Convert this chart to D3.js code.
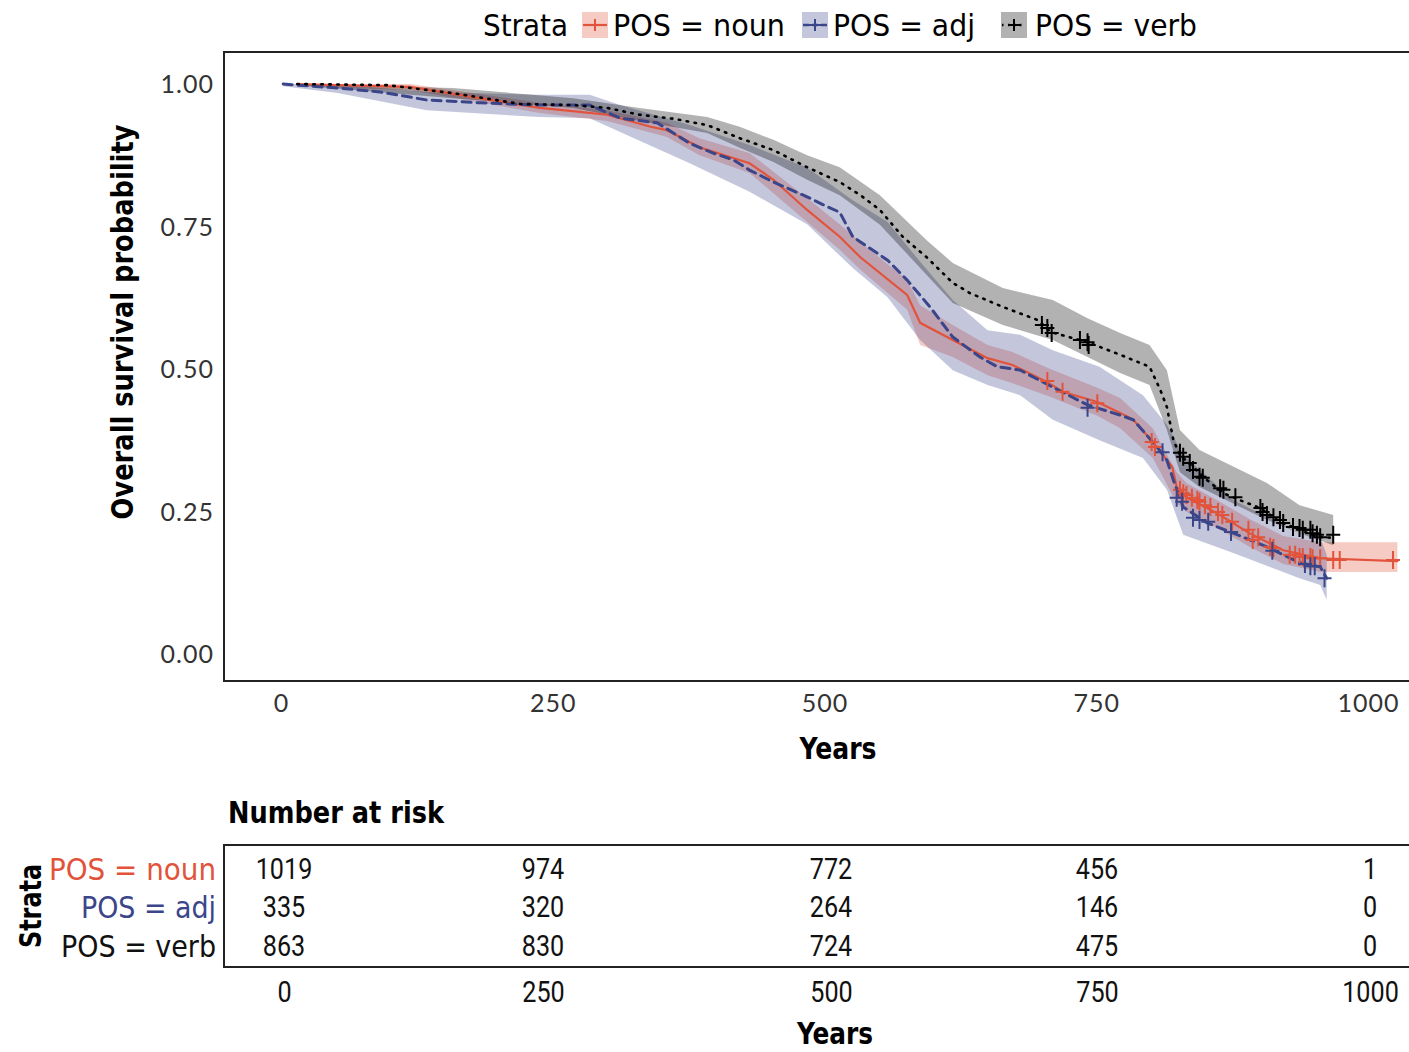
<!DOCTYPE html>
<html>
<head>
<meta charset="utf-8">
<script src="https://cdn.jsdelivr.net/npm/d3@7"></script>
<style>
  html, body { margin: 0; padding: 0; background: #ffffff; }
  svg { display: block; }
</style>
</head>
<body>
<svg id="chart" width="1409" height="1052"></svg>
<script>
// ---------------- DATA ----------------
const strata = ["POS = noun", "POS = adj", "POS = verb"];
const xTicks = [0, 250, 500, 750, 1000];
const yTicks = [0, 0.25, 0.5, 0.75, 1.0];
const yTickLabels = ["0.00", "0.25", "0.50", "0.75", "1.00"];

// survival curves [year, probability]
const nounCurve = [[15,1.0],[119,0.995],[238,0.958],[266,0.953],[300,0.946],[340,0.925],[355,0.919],[385,0.889],[431,0.861],[453,0.832],[484,0.779],[514,0.732],[533,0.696],[576,0.630],[588,0.581],[618,0.551],[650,0.519],[673,0.507],[705,0.477],[719,0.460],[751,0.442],[772,0.423],[784,0.411],[802,0.372],[820,0.328],[824,0.293],[833,0.275],[861,0.247],[891,0.212],[922,0.182],[956,0.168],[1027,0.163]];
const adjCurve = [[2,1.0],[15,0.998],[52,0.993],[91,0.986],[134,0.972],[183,0.967],[238,0.963],[284,0.963],[312,0.940],[346,0.932],[361,0.914],[376,0.896],[397,0.879],[416,0.867],[431,0.849],[453,0.828],[484,0.802],[499,0.788],[514,0.775],[526,0.732],[558,0.691],[576,0.656],[597,0.609],[618,0.556],[643,0.521],[659,0.504],[680,0.498],[710,0.468],[742,0.437],[772,0.419],[784,0.411],[806,0.363],[815,0.340],[821,0.305],[830,0.258],[852,0.230],[876,0.212],[907,0.188],[937,0.160],[956,0.153],[962,0.133]];
const verbCurve = [[15,1.0],[98,0.998],[158,0.984],[220,0.965],[269,0.963],[300,0.958],[330,0.946],[361,0.939],[392,0.928],[422,0.905],[453,0.884],[484,0.854],[514,0.828],[533,0.805],[551,0.779],[572,0.732],[594,0.696],[618,0.651],[634,0.633],[664,0.609],[696,0.586],[708,0.565],[742,0.547],[772,0.525],[799,0.504],[809,0.463],[815,0.433],[821,0.375],[827,0.349],[839,0.328],[852,0.305],[867,0.282],[882,0.270],[901,0.256],[919,0.232],[937,0.218],[953,0.205],[968,0.204]];

// confidence ribbons [year, lower, upper]
const nounBand = [[15,0.996,1.0],[119,0.989,1.0],[238,0.949,0.967],[300,0.935,0.954],[355,0.907,0.932],[385,0.875,0.905],[431,0.844,0.879],[484,0.758,0.800],[514,0.709,0.754],[533,0.674,0.723],[576,0.604,0.656],[588,0.542,0.612],[618,0.521,0.577],[650,0.489,0.542],[673,0.475,0.530],[705,0.453,0.502],[751,0.418,0.467],[772,0.396,0.449],[802,0.344,0.396],[824,0.265,0.319],[833,0.249,0.300],[861,0.221,0.270],[891,0.188,0.237],[922,0.158,0.207],[956,0.144,0.196],[1027,0.144,0.196]];
const adjBand = [[2,0.996,1.0],[52,0.984,1.0],[134,0.954,0.986],[238,0.942,0.981],[284,0.940,0.981],[312,0.916,0.963],[376,0.861,0.928],[431,0.811,0.893],[484,0.754,0.853],[526,0.677,0.796],[558,0.626,0.758],[588,0.551,0.688],[618,0.498,0.621],[650,0.472,0.568],[680,0.454,0.560],[710,0.411,0.533],[753,0.375,0.504],[793,0.344,0.454],[815,0.288,0.402],[830,0.209,0.349],[876,0.177,0.270],[937,0.133,0.212],[956,0.121,0.205],[962,0.095,0.174]];
const verbBand = [[15,0.998,1.0],[158,0.975,0.993],[269,0.958,0.975],[330,0.935,0.958],[392,0.914,0.942],[422,0.888,0.925],[453,0.863,0.902],[484,0.832,0.875],[514,0.805,0.854],[551,0.753,0.805],[594,0.665,0.726],[618,0.616,0.686],[664,0.577,0.642],[710,0.551,0.621],[742,0.521,0.589],[772,0.493,0.563],[799,0.472,0.542],[815,0.393,0.498],[827,0.319,0.393],[845,0.293,0.358],[907,0.235,0.300],[937,0.212,0.261],[968,0.191,0.244]];

// censor marks [year, probability]
const nounCensor = [[705,0.479],[719,0.460],[751,0.440],[801,0.372],[804,0.363],[827,0.288],[830,0.282],[833,0.279],[838,0.274],[843,0.270],[845,0.267],[850,0.261],[855,0.258],[862,0.249],[866,0.244],[875,0.232],[890,0.218],[894,0.200],[899,0.205],[910,0.188],[913,0.186],[928,0.174],[933,0.174],[937,0.170],[940,0.170],[947,0.170],[949,0.168],[956,0.168],[968,0.165],[974,0.165],[1023,0.165]];
const adjCensor = [[742,0.432],[811,0.354],[824,0.274],[829,0.267],[839,0.239],[845,0.235],[853,0.232],[874,0.214],[912,0.181],[942,0.158],[947,0.154],[951,0.154],[960,0.133]];
const verbCensor = [[700,0.577],[705,0.572],[709,0.563],[735,0.551],[742,0.547],[743,0.542],[827,0.353],[830,0.346],[836,0.335],[839,0.323],[845,0.311],[848,0.309],[864,0.291],[867,0.288],[878,0.275],[901,0.256],[903,0.249],[907,0.244],[913,0.240],[919,0.235],[922,0.230],[931,0.223],[937,0.221],[940,0.218],[947,0.218],[949,0.212],[953,0.209],[956,0.205],[968,0.209]];

// number at risk
const riskTimes = [0, 250, 500, 750, 1000];
const riskNoun = [1019, 974, 772, 456, 1];
const riskAdj = [335, 320, 264, 146, 0];
const riskVerb = [863, 830, 724, 475, 0];

// ---------------- DRAW ----------------
const svg = d3.select("#chart");
const colors = { noun: "#e2533b", adj: "#3b4589", verb: "#000000" };
const condensed = "'Liberation Sans Narrow','DejaVu Sans Condensed','Roboto Condensed','Open Sans',sans-serif";
const numFont = "Roboto,'Open Sans',sans-serif";
const tickFont = "Lato,'Open Sans',sans-serif";

const x = d3.scaleLinear().domain([0, 1000]).range([281, 1368]);
const y = d3.scaleLinear().domain([0, 1]).range([654, 84]);

// panel border
svg.append("rect").attr("x", 224).attr("y", 52).attr("width", 1220).attr("height", 629)
  .attr("fill", "none").attr("stroke", "#222").attr("stroke-width", 2);

const plot = svg.append("g");
const area = d3.area().x(d => x(d[0])).y0(d => y(d[1])).y1(d => y(d[2]));
const line = d3.line().x(d => x(d[0])).y(d => y(d[1]));

const series = [
  { key: "noun", curve: nounCurve, band: nounBand, censor: nounCensor, dash: null, width: 2.2 },
  { key: "adj", curve: adjCurve, band: adjBand, censor: adjCensor, dash: "9,6", width: 3 },
  { key: "verb", curve: verbCurve, band: verbBand, censor: verbCensor, dash: "1.5,6.5", width: 2.6 }
];

series.forEach(s => {
  plot.append("path").datum(s.band).attr("d", area)
    .attr("fill", colors[s.key]).attr("fill-opacity", 0.3).attr("stroke", "none");
});
series.forEach(s => {
  const p = plot.append("path").datum(s.curve).attr("d", line)
    .attr("fill", "none").attr("stroke", colors[s.key]).attr("stroke-width", s.width)
    .attr("stroke-linecap", "round");
  if (s.dash) p.attr("stroke-dasharray", s.dash);
});
series.forEach(s => {
  plot.selectAll(null).data(s.censor).enter().append("path")
    .attr("d", d => {
      const cx = x(d[0]), cy = y(d[1]);
      return `M${cx-7},${cy}H${cx+7}M${cx},${cy-9}V${cy+9}`;
    })
    .attr("stroke", colors[s.key]).attr("stroke-width", 2).attr("fill", "none");
});

// axes (labels only, no tick marks)
const xAxis = d3.axisBottom(x).tickValues(xTicks).tickSize(0).tickPadding(0).tickFormat(d3.format("d"));
const gx = svg.append("g").attr("transform", "translate(0,703)").call(xAxis);
gx.select(".domain").remove();
gx.selectAll("text").attr("font-family", tickFont).attr("font-size", 25).attr("fill", "#333")
  .attr("letter-spacing", 1).attr("dy", "0.35em").attr("y", 0);

const yAxis = d3.axisLeft(y).tickValues(yTicks).tickSize(0).tickPadding(0)
  .tickFormat((d, i) => yTickLabels[i]);
const gy = svg.append("g").attr("transform", "translate(214,0)").call(yAxis);
gy.select(".domain").remove();
gy.selectAll("text").attr("font-family", tickFont).attr("font-size", 25).attr("fill", "#333")
  .attr("letter-spacing", 1).attr("dy", "0.35em").attr("x", 0);

// axis titles
svg.append("text").attr("x", 838).attr("y", 748).attr("text-anchor", "middle")
  .attr("dominant-baseline", "central").attr("font-family", condensed).attr("font-weight", "bold")
  .attr("font-size", 30).attr("textLength", 77).attr("lengthAdjust", "spacingAndGlyphs").text("Years");
svg.append("text").attr("transform", "translate(122,322) rotate(-90)").attr("text-anchor", "middle")
  .attr("dominant-baseline", "central").attr("font-family", condensed).attr("font-weight", "bold")
  .attr("font-size", 31).attr("textLength", 395).attr("lengthAdjust", "spacingAndGlyphs")
  .text("Overall survival probability");

// legend
const leg = svg.append("g");
leg.append("text").attr("x", 483).attr("y", 25).attr("dominant-baseline", "central")
  .attr("font-family", condensed).attr("font-size", 31).attr("textLength", 85)
  .attr("lengthAdjust", "spacingAndGlyphs").text("Strata");
const legItems = [
  { key: "noun", label: strata[0], bx: 582, tx: 613, tw: 172, dash: null, sw: 2.2 },
  { key: "adj", label: strata[1], bx: 802, tx: 833, tw: 142, dash: "6,3", sw: 2.5 },
  { key: "verb", label: strata[2], bx: 1001, tx: 1035, tw: 162, dash: "1.5,4.5", sw: 2.5 }
];
legItems.forEach(it => {
  leg.append("rect").attr("x", it.bx).attr("y", 12).attr("width", 26).attr("height", 26)
    .attr("fill", colors[it.key]).attr("fill-opacity", 0.3);
  const l = leg.append("line").attr("x1", it.bx + 1).attr("x2", it.bx + 25).attr("y1", 25).attr("y2", 25)
    .attr("stroke", colors[it.key]).attr("stroke-width", it.sw);
  if (it.dash) l.attr("stroke-dasharray", it.dash);
  leg.append("path").attr("d", `M${it.bx+7},25H${it.bx+19}M${it.bx+13},19V31`)
    .attr("stroke", colors[it.key]).attr("stroke-width", 2);
  leg.append("text").attr("x", it.tx).attr("y", 25).attr("dominant-baseline", "central")
    .attr("font-family", condensed).attr("font-size", 31).attr("textLength", it.tw)
    .attr("lengthAdjust", "spacingAndGlyphs").text(it.label);
});

// ---------------- RISK TABLE ----------------
const xr = d3.scaleLinear().domain(riskTimes).range([284, 543, 831, 1097, 1370]);
svg.append("text").attr("x", 228).attr("y", 812).attr("dominant-baseline", "central")
  .attr("font-family", condensed).attr("font-weight", "bold").attr("font-size", 30)
  .attr("textLength", 216).attr("lengthAdjust", "spacingAndGlyphs").text("Number at risk");
svg.append("rect").attr("x", 224).attr("y", 845).attr("width", 1220).attr("height", 122)
  .attr("fill", "none").attr("stroke", "#222").attr("stroke-width", 2);

const rows = [
  { label: strata[0], vals: riskNoun, color: colors.noun, y: 869, w: 167 },
  { label: strata[1], vals: riskAdj, color: colors.adj, y: 907, w: 135 },
  { label: strata[2], vals: riskVerb, color: "#111", y: 946, w: 155 }
];
rows.forEach(r => {
  svg.append("text").attr("x", 216).attr("y", r.y).attr("text-anchor", "end")
    .attr("dominant-baseline", "central").attr("font-family", condensed).attr("font-size", 31)
    .attr("textLength", r.w).attr("lengthAdjust", "spacingAndGlyphs")
    .attr("fill", r.color).text(r.label);
  svg.append("g").selectAll("text").data(r.vals).enter().append("text")
    .attr("transform", (d, i) => `translate(${xr(riskTimes[i])},${r.y}) scale(0.84,1)`)
    .attr("text-anchor", "middle")
    .attr("dominant-baseline", "central").attr("font-family", numFont).attr("font-size", 30)
    .attr("fill", "#111").text(d => d);
});
svg.append("text").attr("transform", "translate(30,906) rotate(-90)").attr("text-anchor", "middle")
  .attr("dominant-baseline", "central").attr("font-family", condensed).attr("font-weight", "bold")
  .attr("font-size", 30).attr("textLength", 84).attr("lengthAdjust", "spacingAndGlyphs").text("Strata");

const xrAxis = d3.axisBottom(xr).tickValues(riskTimes).tickSize(0).tickPadding(0).tickFormat(d3.format("d"));
const gxr = svg.append("g").attr("transform", "translate(0,991)").call(xrAxis);
gxr.select(".domain").remove();
gxr.selectAll("text").attr("font-family", numFont).attr("font-size", 30).attr("fill", "#111")
  .attr("dy", "0.35em").attr("y", 0)
  .attr("transform", function() { return "scale(0.84,1)"; })
  .attr("x", 0);
gxr.selectAll(".tick").each(function() {
  // tick groups are translated by the axis; compress glyphs horizontally inside each
});
svg.append("text").attr("x", 835).attr("y", 1033).attr("text-anchor", "middle")
  .attr("dominant-baseline", "central").attr("font-family", condensed).attr("font-weight", "bold")
  .attr("font-size", 30).attr("textLength", 76).attr("lengthAdjust", "spacingAndGlyphs").text("Years");
</script>
</body>
</html>
